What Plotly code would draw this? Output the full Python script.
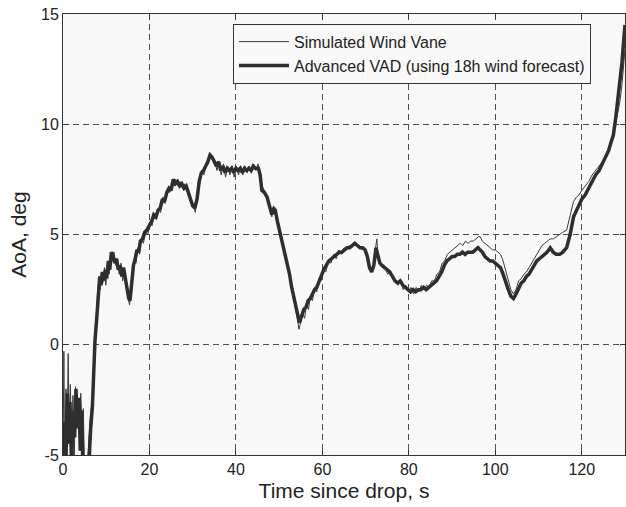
import plotly.graph_objects as go

# ---- data ----
vad_t = [0.0, 0.3, 0.6, 1.0, 1.3, 1.6, 2.0, 2.3, 2.7, 3.0, 3.4, 3.7, 4.0, 4.3, 4.6, 5.0, 5.6,
         6.0, 6.4, 6.8, 7.1, 7.4, 7.8, 8.2, 8.5, 8.8, 9.1, 9.4, 9.8, 10.1, 10.5, 10.8, 11.2,
         11.6, 12.0, 12.4, 12.8, 13.2, 13.6, 14.0, 14.4, 14.8, 15.2, 15.5, 15.9, 16.3, 16.7,
         17.1, 17.5, 17.9, 18.4, 18.9, 19.4, 20.0, 20.5, 21.0, 21.5, 22.0, 22.5, 23.0, 23.5,
         24.0, 24.5, 25.0, 25.5, 26.0, 26.5, 27.0, 27.5, 28.0, 28.5, 29.0, 29.5, 30.0, 30.5,
         31.0, 31.5, 32.0, 32.5, 33.0, 33.5, 34.0, 34.5, 35.0, 35.5, 36.0, 36.5, 37.0, 37.5,
         38.0, 38.5, 39.0, 39.5, 40.0, 40.5, 41.0, 41.5, 42.0, 42.5, 43.0, 43.5, 44.0, 44.5,
         45.2, 45.6, 46.0, 46.6, 47.2, 47.8, 48.3, 48.7, 49.1, 49.6, 50.2, 50.8, 51.3, 51.8,
         52.4, 52.9, 53.5, 54.1, 54.7, 55.2, 55.7, 56.2, 56.7, 57.2, 57.7, 58.2, 58.7, 59.2,
         59.7, 60.3, 60.9, 61.5, 62.1, 62.7, 63.3, 63.9, 64.5, 65.1, 65.7, 66.3, 66.9, 67.5,
         68.1, 68.7, 69.3, 69.9, 70.4, 70.9, 71.4, 71.9, 72.4, 72.8, 73.3, 73.8, 74.4, 75.0,
         75.6, 76.2, 76.8, 77.4, 78.0, 78.6, 79.2, 79.8, 80.4, 81.0, 81.6, 82.2, 82.8, 83.4,
         84.0, 84.6, 85.2, 85.8, 86.4, 87.0, 87.6, 88.2, 88.8, 89.4, 90.0, 90.6, 91.2, 91.8,
         92.4, 93.0, 93.6, 94.2, 94.8, 95.4, 96.0, 96.5, 97.0, 97.6, 98.2, 98.8, 99.4, 100.0,
         100.6, 101.2, 101.8, 102.4, 103.0, 103.6, 104.2, 104.8, 105.4, 106.0, 106.6, 107.2,
         107.8, 108.4, 109.0, 109.6, 110.2, 110.8, 111.4, 112.0, 112.7, 113.4, 114.1, 114.9,
         115.6, 116.5, 117.3, 118.1, 118.8, 119.4, 120.0, 120.8, 121.6, 122.4, 123.2, 124.0,
         124.8, 125.6, 126.2, 126.8, 127.3, 127.8, 128.3, 128.8, 129.3, 129.7, 130.0]
vad_y = [-6.0, -3.5, -5.8, -2.2, -4.5, -2.6, -5.5, -3.0, -4.2, -2.0, -3.8, -2.4, -4.8, -3.0, -5.5, -7.0, -7.0,
         -4.9, -3.8, -2.8, -1.2, 0.2, 1.2, 2.3, 3.1, 2.7, 3.3, 2.9, 3.4, 3.0, 3.8, 3.4, 4.2,
         4.0, 3.7, 3.9, 3.4, 3.6, 3.1, 3.5, 3.0, 2.6, 2.1, 2.0, 2.9, 3.6, 3.9,
         4.3, 4.2, 4.7, 4.8, 5.1, 5.2, 5.4, 5.6, 5.9, 5.8, 6.1, 6.2, 6.6, 6.5,
         6.9, 7.1, 7.0, 7.5, 7.3, 7.4, 7.2, 7.3, 7.1, 7.2, 6.9, 6.6, 6.3, 6.2,
         6.6, 7.4, 7.8, 7.9, 8.1, 8.3, 8.6, 8.5, 8.3, 8.1, 8.3, 7.9, 8.1, 7.8,
         8.0, 7.9, 8.0, 7.8, 8.0, 7.9, 8.0, 7.8, 8.0, 7.9, 8.0, 7.9, 8.1, 8.0,
         8.0, 7.7, 7.0, 6.9, 6.7, 6.2, 5.9, 6.2, 6.1, 5.6, 5.1, 4.6, 4.1, 3.8,
         3.2, 2.6, 2.0, 1.5, 1.0, 1.3, 1.6, 1.7, 2.0, 2.1, 2.3, 2.5, 2.6, 2.9,
         3.1, 3.4, 3.6, 3.8, 3.9, 4.0, 4.1, 4.2, 4.2, 4.3, 4.4, 4.4, 4.5, 4.6,
         4.5, 4.4, 4.4, 4.3, 4.0, 3.5, 3.3, 3.6, 4.4, 4.0, 3.7, 3.6, 3.5, 3.4,
         3.3, 3.1, 2.9, 2.8, 2.9, 2.7, 2.6, 2.5, 2.4, 2.5, 2.4, 2.5, 2.5, 2.6,
         2.5, 2.6, 2.7, 2.8, 2.9, 3.1, 3.3, 3.6, 3.8, 3.9, 4.0, 4.0, 4.1, 4.1,
         4.2, 4.1, 4.2, 4.2, 4.2, 4.3, 4.4, 4.3, 4.2, 4.0, 3.9, 3.8, 3.8, 3.7,
         3.6, 3.5, 3.2, 2.8, 2.5, 2.2, 2.1, 2.3, 2.6, 2.8, 2.9, 3.1,
         3.2, 3.4, 3.6, 3.8, 3.9, 4.0, 4.1, 4.2, 4.4, 4.2, 4.1, 4.1,
         4.2, 4.4, 5.0, 5.8, 6.1, 6.4, 6.6, 6.8, 7.1, 7.4, 7.7, 7.9,
         8.2, 8.5, 8.8, 9.2, 9.5, 10.2, 11.0, 11.9, 12.8, 13.8, 14.5]

vane_t = [0.0, 0.2, 0.4, 0.7, 0.9, 1.2, 1.4, 1.7, 2.0, 2.3, 2.6, 2.9, 3.2, 3.5, 3.8, 4.1, 4.4,
          4.7, 5.0, 5.5, 5.9, 6.3, 6.7, 7.0, 7.3, 7.7, 8.0, 8.3, 8.6, 8.9, 9.2, 9.6, 9.9,
          10.3, 10.7, 11.0, 11.4, 11.8, 12.2, 12.6, 13.0, 13.4, 13.8, 14.2, 14.6, 15.0, 15.4,
          15.7, 16.1, 16.5, 16.9, 17.3, 17.7, 18.1, 18.6, 19.1, 19.6, 20.1, 20.6, 21.1, 21.6,
          22.1, 22.6, 23.1, 23.6, 24.1, 24.6, 25.1, 25.6, 26.1, 26.6, 27.1, 27.6, 28.1, 28.6,
          29.1, 29.6, 30.1, 30.6, 31.1, 31.6, 32.1, 32.6, 33.1, 33.6, 34.1, 34.6, 35.1, 35.6,
          36.1, 36.6, 37.1, 37.6, 38.1, 38.6, 39.1, 39.6, 40.1, 40.6, 41.1, 41.6, 42.1, 42.6,
          43.1, 43.6, 44.1, 44.6, 45.1, 45.5, 46.0, 46.6, 47.2, 47.8, 48.3, 48.7, 49.1, 49.6,
          50.2, 50.8, 51.3, 51.8, 52.4, 52.9, 53.5, 54.1, 54.6, 55.0, 55.4, 55.9, 56.3, 56.8,
          57.2, 57.7, 58.2, 58.7, 59.2, 59.7, 60.2, 60.8, 61.4, 62.0, 62.6, 63.2, 63.8, 64.4,
          65.0, 65.6, 66.2, 66.8, 67.4, 68.0, 68.6, 69.2, 69.8, 70.3, 70.8, 71.3, 71.8, 72.3,
          72.6, 72.9, 73.4, 73.9, 74.5, 75.1, 75.7, 76.3, 76.9, 77.5, 78.1, 78.7, 79.3, 79.9,
          80.5, 81.1, 81.7, 82.3, 82.9, 83.5, 84.1, 84.7, 85.3, 85.9, 86.5, 87.1, 87.7, 88.3,
          88.9, 89.5, 90.1, 90.7, 91.3, 91.9, 92.5, 93.1, 93.7, 94.3, 94.9, 95.5, 96.1, 96.5,
          97.0, 97.6, 98.2, 98.8, 99.4, 100.0, 100.6, 101.2, 101.8, 102.4, 103.0, 103.6, 104.2,
          104.8, 105.4, 106.0, 106.6, 107.2, 107.8, 108.4, 109.0, 109.6, 110.2, 110.8, 111.4,
          112.0, 112.7, 113.4, 114.1, 114.9, 115.6, 116.5, 117.3, 118.1, 118.8, 119.4, 120.0,
          120.8, 121.6, 122.4, 123.2, 124.0, 124.8, 125.6, 126.2, 126.8, 127.3, 127.8, 128.3,
          128.8, 129.3, 129.7, 130.0]
vane_y = [-5.5, -0.3, -6.0, -2.0, -5.2, -0.4, -4.0, -1.8, -4.6, -2.3, -5.3, -1.9, -3.7, -2.5, -4.4, -2.2, -3.6,
          -2.9, -6.0, -5.8, -4.6, -3.3, -2.6, -1.5, 0.0, 1.1, 2.4, 2.9, 2.5, 3.3, 2.8, 3.5, 2.7,
          3.6, 3.2, 4.1, 3.9, 4.2, 3.6, 3.8, 3.2, 3.7, 2.9, 3.4, 2.7, 2.2, 1.8,
          2.4, 3.3, 3.8, 3.7, 4.4, 4.1, 4.8, 4.6, 5.1, 5.0, 5.5, 5.4, 5.9, 5.7,
          6.2, 6.0, 6.7, 6.4, 7.0, 6.9, 7.3, 7.2, 7.5, 7.2, 7.4, 7.1, 7.3, 7.0,
          7.0, 6.5, 6.4, 6.0, 6.8, 7.3, 7.9, 7.7, 8.2, 8.2, 8.7, 8.4, 8.4, 7.9,
          8.3, 7.7, 8.2, 7.6, 8.1, 7.7, 8.1, 7.6, 8.1, 7.7, 8.1, 7.7, 8.1, 7.8,
          8.1, 7.8, 8.2, 7.9, 8.2, 7.8, 7.2, 7.0, 6.6, 6.3, 5.8, 6.3, 6.0, 5.5,
          5.0, 4.5, 4.2, 3.7, 3.1, 2.5, 1.9, 1.3, 0.7, 1.1, 1.4, 1.2, 1.8, 1.6,
          2.2, 2.0, 2.6, 2.4, 3.0, 2.9, 3.4, 3.3, 3.8, 3.7, 4.1, 3.9, 4.3, 4.1,
          4.4, 4.3, 4.5, 4.4, 4.6, 4.5, 4.5, 4.3, 4.4, 4.1, 3.6, 3.3, 3.5, 4.4,
          4.8, 3.9, 3.7, 3.5, 3.5, 3.2, 3.3, 3.0, 2.9, 2.7, 2.9, 2.5, 2.7, 2.4,
          2.6, 2.3, 2.6, 2.4, 2.7, 2.5, 2.7, 2.6, 2.9, 2.9, 3.2, 3.3, 3.7, 3.8,
          4.1, 4.2, 4.3, 4.4, 4.5, 4.6, 4.5, 4.7, 4.6, 4.7, 4.7, 4.8, 4.9, 4.9,
          4.7, 4.6, 4.5, 4.4, 4.3, 4.3, 4.2, 4.1, 3.8, 3.4, 2.9, 2.5, 2.3,
          2.5, 2.9, 3.0, 3.2, 3.3, 3.5, 3.7, 3.9, 4.1, 4.3, 4.5, 4.6,
          4.7, 4.8, 4.8, 4.9, 5.0, 5.1, 5.2, 5.8, 6.5, 6.7, 6.8, 7.0,
          7.2, 7.4, 7.7, 7.9, 8.1, 8.3, 8.6, 8.9, 9.3, 9.6, 10.0, 10.5,
          11.0, 11.8, 12.6, 13.4]

x_ticks = [0, 20, 40, 60, 80, 100, 120]
y_ticks = [-5, 0, 5, 10, 15]
y_tick_text = ["-5", "0", "5", "10", "15"]

FONT = "Liberation Sans, Arial, Helvetica, sans-serif"
INK = "#333333"

fig = go.Figure()
fig.add_trace(go.Scatter(
    x=vane_t, y=vane_y, mode="lines", name="Simulated Wind Vane",
    line=dict(color="#3a3a3a", width=1),
))
fig.add_trace(go.Scatter(
    x=vad_t, y=vad_y, mode="lines", name="Advanced VAD (using 18h wind forecast)",
    line=dict(color="#2e2e2e", width=3.5),
))

axis_common = dict(
    showline=True, linecolor=INK, linewidth=1, mirror="ticks",
    ticks="inside", ticklen=5, tickcolor=INK, tickwidth=1,
    showgrid=True, gridcolor="#4d4d4d", gridwidth=1, griddash="6px,4px",
    zeroline=False, tickfont=dict(family=FONT, size=16, color="#222222"),
)

fig.update_xaxes(range=[0, 130], tickvals=x_ticks,
                 title=dict(text="Time since drop, s", font=dict(family=FONT, size=21, color="#222222"), standoff=6),
                 **axis_common)
fig.update_yaxes(range=[-5, 15], tickvals=y_ticks, ticktext=y_tick_text,
                 title=dict(text="AoA, deg", font=dict(family=FONT, size=21, color="#222222"), standoff=8),
                 **axis_common)

fig.update_layout(
    width=626, height=507,
    margin=dict(l=63, r=1, t=14, b=52),
    paper_bgcolor="white", plot_bgcolor="#f8f8f8",
    font=dict(family=FONT, color="#222222"),
    showlegend=True,
    legend=dict(
        x=0.3025, y=0.978, xanchor="left", yanchor="top",
        bgcolor="#f9f9f9", bordercolor=INK, borderwidth=1,
        font=dict(family=FONT, size=16, color="#222222"),
        itemwidth=50, tracegroupgap=0,
    ),
)

fig.write_html("out.html")
